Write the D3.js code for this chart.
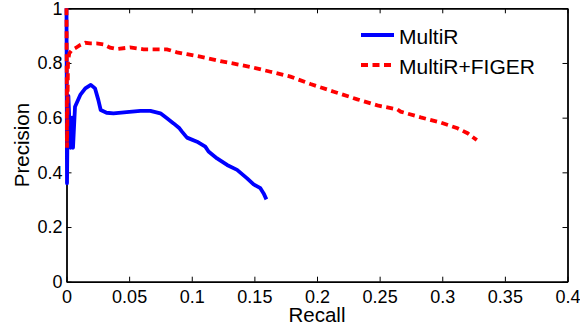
<!DOCTYPE html>
<html>
<head>
<meta charset="utf-8">
<script src="https://cdn.jsdelivr.net/npm/d3@7"></script>
<style>
  body { margin: 0; background: #fff; }
  text { font-family: "Liberation Sans", Arial, sans-serif; fill: #000; }
</style>
</head>
<body>
<div id="chart"></div>
<script>
// Width and height
var w = 580;
var h = 325;

// Tick values
var xTicks = [0, 0.05, 0.1, 0.15, 0.2, 0.25, 0.3, 0.35, 0.4];
var yTicks = [0, 0.2, 0.4, 0.6, 0.8, 1];

// Series names
var seriesNames = ["MultiR", "MultiR+FIGER"];

// MultiR recall / precision
var multirRecall = [0, 0.0004, 0.0008, 0.0015, 0.0022, 0.0033, 0.0045, 0.0052, 0.0068, 0.011, 0.015, 0.0194, 0.0228, 0.0254, 0.0273, 0.032, 0.0375, 0.048, 0.059, 0.067, 0.075, 0.0802, 0.0855, 0.0902, 0.0922, 0.0962, 0.1042, 0.1108, 0.1134, 0.1202, 0.1282, 0.1362, 0.1442, 0.1494, 0.1548, 0.1574, 0.1596];
var multirPrecision = [1.0, 0.36, 0.55, 0.68, 0.6, 0.49, 0.6, 0.49, 0.64, 0.683, 0.707, 0.72, 0.707, 0.665, 0.628, 0.618, 0.616, 0.62, 0.625, 0.625, 0.616, 0.598, 0.579, 0.561, 0.549, 0.527, 0.512, 0.494, 0.476, 0.451, 0.427, 0.409, 0.378, 0.356, 0.342, 0.323, 0.301];

// MultiR+FIGER recall / precision
var figerRecall = [0, 0.0004, 0.0008, 0.0012, 0.0022, 0.0042, 0.007, 0.011, 0.015, 0.019, 0.024, 0.0294, 0.0348, 0.0402, 0.0508, 0.0615, 0.0722, 0.0802, 0.0882, 0.0962, 0.1068, 0.1228, 0.1388, 0.1494, 0.1628, 0.1788, 0.1948, 0.2134, 0.2322, 0.2482, 0.2642, 0.2668, 0.2828, 0.2988, 0.3122, 0.3202, 0.3276];
var figerPrecision = [1.0, 0.49, 0.65, 0.805, 0.835, 0.847, 0.854, 0.866, 0.874, 0.872, 0.872, 0.868, 0.856, 0.851, 0.857, 0.85, 0.85, 0.85, 0.839, 0.832, 0.823, 0.807, 0.793, 0.783, 0.768, 0.75, 0.723, 0.695, 0.667, 0.645, 0.63, 0.622, 0.601, 0.582, 0.561, 0.543, 0.518];

var colors = ["#0000ff", "#ff0000"];

var x = d3.scaleLinear().domain([0, 0.4]).range([66.5, 567.5]);
var y = d3.scaleLinear().domain([0, 1]).range([281.7, 8.3]);

var svg = d3.select("#chart")
  .append("svg")
  .attr("width", w)
  .attr("height", h);

var fmt = d3.format("~g");

//Axes: MATLAB box with inward ticks on all sides
svg.append("g")
  .attr("transform", "translate(0," + y(0) + ")")
  .call(d3.axisBottom(x).tickValues(xTicks).tickFormat(fmt).tickSizeInner(-5).tickSizeOuter(0).tickPadding(9));
svg.append("g")
  .attr("transform", "translate(" + x(0) + ",0)")
  .call(d3.axisLeft(y).tickValues(yTicks).tickFormat(fmt).tickSizeInner(-5).tickSizeOuter(0).tickPadding(4));
svg.append("g")
  .attr("transform", "translate(0," + y(1) + ")")
  .call(d3.axisTop(x).tickValues(xTicks).tickFormat("").tickSizeInner(-5).tickSizeOuter(0));
svg.append("g")
  .attr("transform", "translate(" + x(0.4) + ",0)")
  .call(d3.axisRight(y).tickValues(yTicks).tickFormat("").tickSizeInner(-5).tickSizeOuter(0));

svg.selectAll(".domain").attr("stroke", "#000").attr("stroke-width", 1.8);
svg.selectAll(".tick line").attr("stroke", "#000").attr("stroke-width", 1);
svg.selectAll(".tick text")
  .attr("fill", "#000")
  .style("font-family", "'Liberation Sans', Arial, sans-serif")
  .style("font-size", "18px");

//Axis labels
svg.append("text")
  .attr("x", (x(0) + x(0.4)) / 2)
  .attr("y", 322)
  .style("text-anchor", "middle")
  .style("font-size", "20.5px")
  .text("Recall");

svg.append("text")
  .attr("transform", "translate(28.5," + (y(0) + y(1)) / 2 + ") rotate(-90)")
  .style("text-anchor", "middle")
  .style("font-size", "20.5px")
  .text("Precision");

//Curves
var line = d3.line()
  .x(function(d) { return x(d[0]); })
  .y(function(d) { return y(d[1]); });

var multirData = d3.zip(multirRecall, multirPrecision);
var figerData = d3.zip(figerRecall, figerPrecision);

svg.append("path")
  .datum(multirData)
  .attr("d", line)
  .attr("fill", "none")
  .attr("stroke", colors[0])
  .attr("stroke-width", 3.8)
  .attr("stroke-linejoin", "round");

svg.append("path")
  .datum(figerData)
  .attr("d", line)
  .attr("fill", "none")
  .attr("stroke", colors[1])
  .attr("stroke-width", 3.8)
  .attr("stroke-dasharray", "7,4.5");

//Legend
var legend = svg.selectAll(".legend")
  .data(seriesNames)
  .enter()
  .append("g")
  .attr("class", "legend")
  .attr("transform", function(d, i) { return "translate(361," + (35 + i * 30) + ")"; });

legend.append("line")
  .attr("x1", 0)
  .attr("x2", 33)
  .attr("stroke", function(d, i) { return colors[i]; })
  .attr("stroke-width", 3.8)
  .attr("stroke-dasharray", function(d, i) { return i == 1 ? "7,4.5" : null; });

legend.append("text")
  .attr("x", 38)
  .attr("y", 9)
  .style("font-size", "21px")
  .text(function(d) { return d; });
</script>
</body>
</html>
